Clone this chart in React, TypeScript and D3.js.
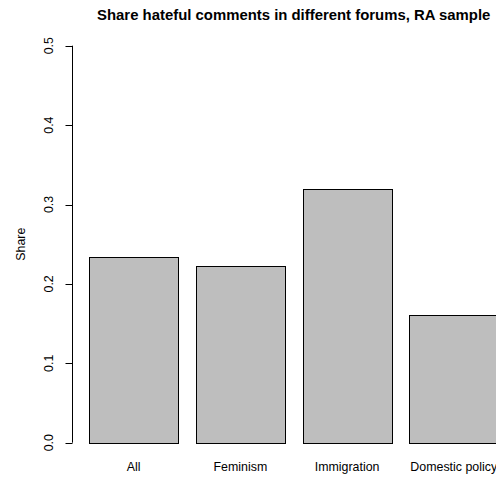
import React from "react";
import * as d3 from "d3";

const categories = ["All", "Feminism", "Immigration", "Domestic policy"];
const shares = [0.2335, 0.222, 0.3195, 0.161];
const yTicks = [0, 0.1, 0.2, 0.3, 0.4, 0.5];
const title = "Share hateful comments in different forums, RA sample";
const yLabel = "Share";

const W = 496;
const H = 480;
const barWidth = 1;
const space = 0.2;

export default function App() {
  const n = categories.length;
  const lo = space;
  const hi = n * (barWidth + space);
  const pad = (hi - lo) * 0.04;
  const plotLeft = 72.9;
  const unit = 88.9;
  const x = d3
    .scaleLinear()
    .domain([lo - pad, hi + pad])
    .range([plotLeft, plotLeft + (hi - lo + 2 * pad) * unit]);
  const y = d3.scaleLinear().domain([0, 0.5]).range([442.7, 45.7]);
  const fmt = d3.format(".1f");
  const plotCenter = (x.range()[0] + x.range()[1]) / 2;
  const font = "'Liberation Sans', Arial, Helvetica, sans-serif";
  const axisX = 72.5;

  return (
    <svg
      width={W}
      height={H}
      style={{ position: "absolute", left: 0, top: 0, background: "#fff" }}
      fontFamily={font}
    >
      <rect x={0} y={0} width={W} height={H} fill="#fff" />
      <text x={plotCenter} y={20} textAnchor="middle" fontWeight="bold" fontSize={14.9} fill="#000">
        {title}
      </text>
      {shares.map((v, i) => {
        const left = space + i * (barWidth + space);
        const x0 = x(left);
        const x1 = x(left + barWidth);
        return (
          <g key={categories[i]}>
            <rect
              x={Math.round(x0) + 0.5}
              y={Math.round(y(v)) + 0.5}
              width={Math.round(x1) - Math.round(x0)}
              height={Math.round(y(0)) - Math.round(y(v))}
              fill="#BEBEBE"
              stroke="#000"
              strokeWidth={1}
            />
            <text x={(x0 + x1) / 2} y={470.5} textAnchor="middle" fontSize={12.4} fill="#000">
              {categories[i]}
            </text>
          </g>
        );
      })}
      <line x1={axisX} x2={axisX} y1={y(0)} y2={y(0.5)} stroke="#000" strokeWidth={1} />
      {yTicks.map((t) => (
        <g key={t}>
          <line x1={axisX - 7} x2={axisX} y1={Math.round(y(t)) + 0.5} y2={Math.round(y(t)) + 0.5} stroke="#000" />
          <text
            transform={`translate(52.5,${y(t)}) rotate(-90)`}
            textAnchor="middle"
            fontSize={12.4}
            fill="#000"
          >
            {fmt(t)}
          </text>
        </g>
      ))}
      <text
        transform={`translate(24.5,${(y(0) + y(0.5)) / 2}) rotate(-90)`}
        textAnchor="middle"
        fontSize={12.4}
        fill="#000"
      >
        {yLabel}
      </text>
    </svg>
  );
}
